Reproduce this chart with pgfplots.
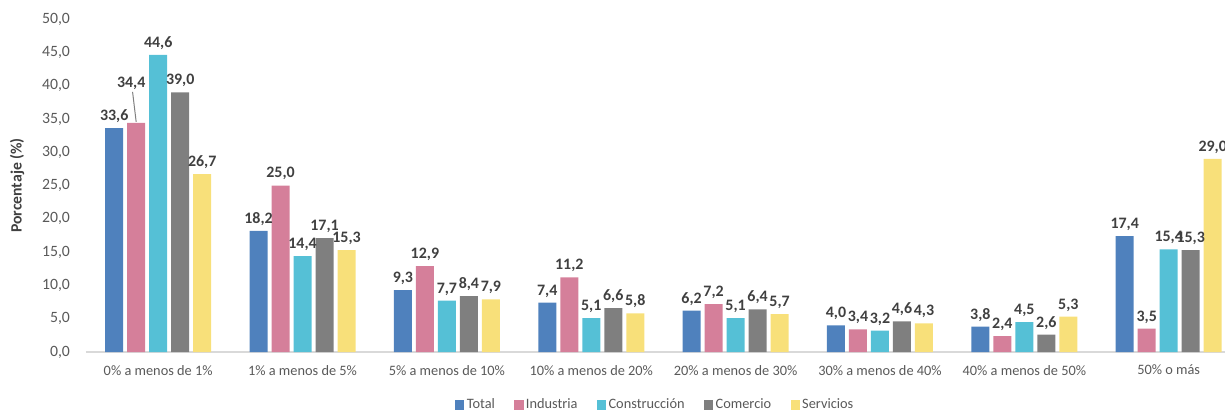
\documentclass[border=0pt]{standalone}
\usepackage{pgfplots}
\pgfplotsset{compat=1.18}
\usepackage{fontspec}
\setmainfont{Carlito}
\usetikzlibrary{calc}
\definecolor{cTot}{HTML}{4F81BD}
\definecolor{cInd}{HTML}{D57F9A}
\definecolor{cCon}{HTML}{55C0D6}
\definecolor{cCom}{HTML}{7F7F7F}
\definecolor{cSer}{HTML}{F8E07A}
\definecolor{tgray}{HTML}{595959}
\definecolor{lgray}{HTML}{404040}
\pgfplotsset{sq/.style={legend image code/.code={\fill[##1] (0bp,-2.3bp) rectangle (4.6bp,2.3bp);}}}
\begin{document}
\begin{tikzpicture}
\begin{axis}[
  scale only axis, width=569.5bp, height=166.5bp,
  xmin=-0.5, xmax=7.39, ymin=0, ymax=50,
  ybar=2bp, bar width=9bp,
  axis x line*=bottom, axis y line*=left,
  x axis line style={draw=black!15, line width=0.6pt},
  y axis line style={draw=none},
  major tick length=0pt,
  xtick={0,...,7},
  xticklabels={0\% a menos de 1\%,1\% a menos de 5\%,5\% a menos de 10\%,10\% a menos de 20\%,20\% a menos de 30\%,30\% a menos de 40\%,40\% a menos de 50\%,50\% o más},
  ytick={0,5,...,50},
  xticklabel style={font=\fontsize{7.2}{9}\selectfont, text=tgray, yshift=-3bp},
  yticklabel style={font=\fontsize{7.9}{9}\selectfont, text=tgray, xshift=-4.5bp, /pgf/number format/.cd, fixed, fixed zerofill, precision=1, use comma},
  /pgf/number format/assume math mode=true,
  ylabel={Porcentaje (\%)},
  every axis y label/.style={at={(axis description cs:-0.0605,0.5)}, rotate=90, anchor=center, font=\bfseries\fontsize{7.9}{10}\selectfont, text=lgray},
  nodes near coords,
  every node near coord/.append style={font=\bfseries\fontsize{8}{9}\selectfont, text=lgray, inner sep=2.5bp,
    /pgf/number format/fixed, /pgf/number format/fixed zerofill, /pgf/number format/precision=1,
    /pgf/number format/use comma, /pgf/number format/assume math mode=true},
  legend style={at={(0.5,-0.159)}, anchor=center, draw=none, font=\fontsize{7.2}{9}\selectfont, text=tgray, legend columns=-1,
    /tikz/every even column/.append style={column sep=8.5bp}, nodes={inner sep=1.2bp}},
]
\addplot[fill=cTot, draw=none, sq] coordinates {(0,33.6) (1,18.2) (2,9.3) (3,7.4) (4,6.2) (5,4.0) (6,3.8) (7,17.4)};
\addplot[fill=cInd, draw=none, sq,
  visualization depends on={value \thisrow{dy} \as \dy},
  visualization depends on={value \thisrow{dx} \as \dx},
  every node near coord/.append style={/tikz/yshift=\dy bp, /tikz/xshift=\dx bp}] table {
x y dx dy
0 34.4 -2.5 14
1 25.0 0 0
2 12.9 0 0
3 11.2 0 0
4 7.2 0 0
5 3.4 0 0
6 2.4 0 0
7 3.5 0 0
};
\addplot[fill=cCon, draw=none, sq] coordinates {(0,44.6) (1,14.4) (2,7.7) (3,5.1) (4,5.1) (5,3.2) (6,4.5) (7,15.4)};
\addplot[fill=cCom, draw=none, sq] coordinates {(0,39.0) (1,17.1) (2,8.4) (3,6.6) (4,6.4) (5,4.6) (6,2.6) (7,15.3)};
\addplot[fill=cSer, draw=none, sq] coordinates {(0,26.7) (1,15.3) (2,7.9) (3,5.8) (4,5.7) (5,4.3) (6,5.3) (7,29.0)};
\legend{Total,Industria,Construcción,Comercio,Servicios}
\draw[black!50, line width=0.5pt] ([xshift=-11bp,yshift=0.5bp]axis cs:0,34.4) -- ([xshift=-12.8bp,yshift=15.5bp]axis cs:0,34.4);
\coordinate (BL) at (rel axis cs:0,0);
\coordinate (TR) at (rel axis cs:1,1);
\end{axis}
\pgfresetboundingbox
\path[use as bounding box] ($(BL)+(-43bp,-29.5bp)$) rectangle ($(TR)+(0bp,9.5bp)$);
\end{tikzpicture}
\end{document}
